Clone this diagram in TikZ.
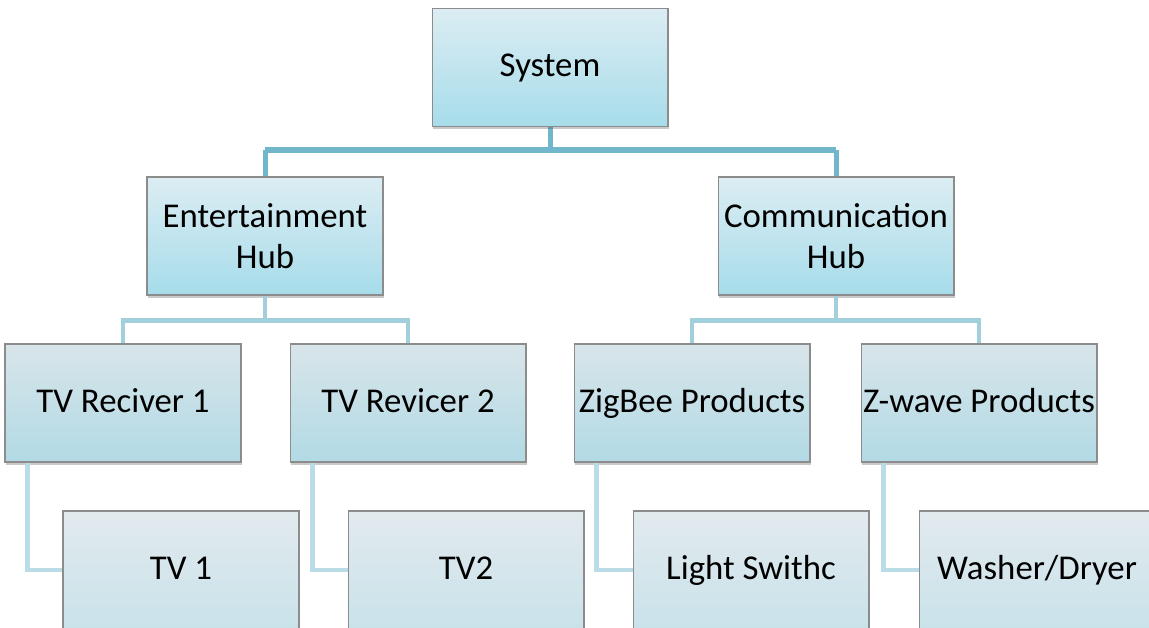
\documentclass[tikz,border=0pt]{standalone}
\usepackage{fontspec}
\setmainfont{Carlito}
\usetikzlibrary{shadows}
\definecolor{hubtop}{HTML}{DCEDF3}
\definecolor{hubbot}{HTML}{A6DCEA}
\definecolor{devtop}{HTML}{D8E5EA}
\definecolor{devbot}{HTML}{B2DAE5}
\definecolor{endtop}{HTML}{E2EAEE}
\definecolor{endbot}{HTML}{C9E2EA}
\definecolor{linkA}{HTML}{72B6CB}
\definecolor{linkB}{HTML}{A2CFDC}
\definecolor{linkC}{HTML}{B9DCE6}

\begin{document}
\begin{tikzpicture}[x=0.02cm,y=-0.02cm,
    box/.style={draw=black!45, line width=0.6pt, minimum width=4.72cm, minimum height=2.36cm,
        inner xsep=1pt, align=center, font=\fontsize{19.8}{23.5}\selectfont,
        drop shadow={shadow xshift=0.6pt, shadow yshift=-1.6pt, opacity=0.3, fill=black!70}},
    hubbox/.style={box, top color=hubtop, bottom color=hubbot},
    devbox/.style={box, top color=devtop, bottom color=devbot, text height=2.85ex, text depth=0.65ex},
    endbox/.style={box, top color=endtop, bottom color=endbot, text height=2.85ex, text depth=0.65ex}]
    \useasboundingbox (0,0) rectangle (1149,628);
    \draw[linkA, line width=2.85pt] (550,120)--(550,150) (265,150)--(836,150) (265,150)--(265,180) (836,150)--(836,180);
    \node[hubbox, text height=2.85ex, text depth=0.65ex] (sys) at (550,67.5) {System};
    \node[hubbox] (ent) at (265,236) {Entertainment\\Hub};
    \node[hubbox] (com) at (836,236) {Communication\\Hub};
    \draw[linkB, line width=2.3pt] (ent.south) -- ++(0,25) -| (123,346) (ent.south) -- ++(0,25) -| (408,346);
    \draw[linkB, line width=2.3pt] (com.south) -- ++(0,25) -| (692,346) (com.south) -- ++(0,25) -| (979,346);
    \node[devbox] (tvr1) at (123,403) {TV Reciver 1};
    \node[devbox] (tvr2) at (408,403) {TV Revicer 2};
    \node[devbox] (zig) at (692,403) {ZigBee Products};
    \node[devbox] (zw) at (979,403) {Z-wave Products};
    \draw[linkC, line width=2.3pt] ([xshift=0.46cm]tvr1.south west) |- (181,570);
    \draw[linkC, line width=2.3pt] ([xshift=0.46cm]tvr2.south west) |- (466,570);
    \draw[linkC, line width=2.3pt] ([xshift=0.46cm]zig.south west) |- (751,570);
    \draw[linkC, line width=2.3pt] ([xshift=0.46cm]zw.south west) |- (1037,570);
    \node[endbox] (tv1) at (181,570) {TV 1};
    \node[endbox] (tv2) at (466,570) {TV2};
    \node[endbox] (light) at (751,570) {Light Swithc};
    \node[endbox] (wash) at (1037,570) {Washer/Dryer};
\end{tikzpicture}
\end{document}
